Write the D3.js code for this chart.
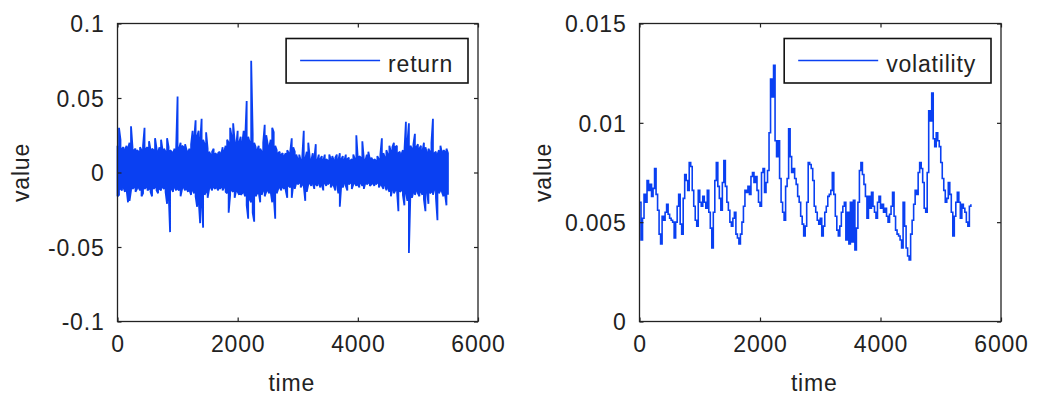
<!DOCTYPE html>
<html>
<head>
<meta charset="utf-8">
<script src="https://cdn.jsdelivr.net/npm/d3@7"></script>
<style>
  body { margin: 0; background: #fff; }
  text { font-family: Arial, "Liberation Sans", sans-serif; fill: #222; }
</style>
</head>
<body>
<div id="chart"></div>
<script>
// sample spacing (time units) of the series below
const sampleStep = 25;

// return: upper / lower envelope of each 25-step bin
const retHigh = [
  0.018,0.030,0.022,0.016,0.017,0.015,0.018,0.016,0.020,0.031,
  0.017,0.015,0.016,0.015,0.014,0.017,0.015,0.018,0.030,0.016,
  0.017,0.021,0.015,0.016,0.015,0.023,0.016,0.014,0.017,0.022,
  0.015,0.016,0.014,0.023,0.017,0.015,0.014,0.013,0.016,0.015,
  0.051,0.016,0.020,0.018,0.017,0.019,0.015,0.014,0.016,0.019,
  0.028,0.022,0.035,0.024,0.028,0.020,0.036,0.022,0.019,0.027,
  0.016,0.014,0.012,0.014,0.016,0.013,0.012,0.013,0.014,0.012,
  0.017,0.014,0.018,0.022,0.020,0.030,0.024,0.033,0.021,0.018,
  0.028,0.020,0.024,0.019,0.028,0.022,0.048,0.024,0.020,0.075,
  0.026,0.020,0.017,0.015,0.018,0.016,0.014,0.020,0.032,0.025,
  0.019,0.017,0.022,0.030,0.027,0.018,0.015,0.013,0.014,0.012,
  0.013,0.011,0.013,0.015,0.013,0.014,0.023,0.017,0.014,0.012,
  0.009,0.012,0.008,0.010,0.028,0.009,0.014,0.020,0.010,0.008,
  0.013,0.009,0.019,0.008,0.012,0.009,0.011,0.008,0.012,0.009,
  0.008,0.012,0.009,0.011,0.008,0.010,0.012,0.008,0.013,0.009,
  0.011,0.008,0.012,0.009,0.010,0.008,0.009,0.012,0.009,0.025,
  0.009,0.011,0.010,0.021,0.009,0.008,0.012,0.014,0.009,0.010,
  0.008,0.009,0.008,0.011,0.009,0.012,0.023,0.013,0.010,0.015,
  0.012,0.018,0.014,0.017,0.020,0.017,0.018,0.013,0.014,0.012,
  0.015,0.014,0.034,0.020,0.033,0.018,0.016,0.019,0.026,0.017,
  0.019,0.016,0.018,0.014,0.020,0.017,0.013,0.016,0.014,0.020,
  0.036,0.013,0.014,0.012,0.015,0.018,0.013,0.015,0.014,0.016,0.013
];
const retLow = [
  -0.016,-0.015,-0.011,-0.012,-0.010,-0.013,-0.011,-0.020,-0.019,-0.012,
  -0.011,-0.010,-0.013,-0.011,-0.010,-0.012,-0.016,-0.014,-0.011,-0.010,
  -0.012,-0.011,-0.013,-0.016,-0.011,-0.010,-0.012,-0.014,-0.011,-0.012,
  -0.010,-0.011,-0.013,-0.021,-0.012,-0.040,-0.011,-0.013,-0.010,-0.012,
  -0.011,-0.012,-0.016,-0.011,-0.010,-0.012,-0.011,-0.013,-0.012,-0.015,
  -0.012,-0.014,-0.016,-0.023,-0.018,-0.034,-0.020,-0.037,-0.015,-0.013,
  -0.017,-0.011,-0.010,-0.012,-0.010,-0.011,-0.010,-0.012,-0.011,-0.010,
  -0.012,-0.010,-0.013,-0.014,-0.027,-0.015,-0.012,-0.013,-0.017,-0.012,
  -0.013,-0.015,-0.015,-0.014,-0.013,-0.016,-0.022,-0.031,-0.018,-0.020,
  -0.027,-0.033,-0.016,-0.014,-0.013,-0.020,-0.015,-0.012,-0.016,-0.013,
  -0.012,-0.014,-0.013,-0.020,-0.016,-0.031,-0.014,-0.011,-0.010,-0.012,
  -0.010,-0.011,-0.012,-0.017,-0.009,-0.010,-0.017,-0.008,-0.011,-0.007,
  -0.008,-0.007,-0.010,-0.008,-0.009,-0.019,-0.013,-0.008,-0.007,-0.009,
  -0.007,-0.011,-0.008,-0.009,-0.007,-0.010,-0.008,-0.012,-0.007,-0.009,
  -0.008,-0.007,-0.010,-0.008,-0.009,-0.012,-0.007,-0.014,-0.023,-0.008,
  -0.010,-0.007,-0.009,-0.012,-0.008,-0.007,-0.011,-0.008,-0.007,-0.009,
  -0.008,-0.010,-0.007,-0.009,-0.011,-0.007,-0.008,-0.007,-0.009,-0.008,
  -0.007,-0.009,-0.008,-0.007,-0.010,-0.008,-0.009,-0.011,-0.008,-0.012,
  -0.010,-0.013,-0.016,-0.011,-0.014,-0.012,-0.011,-0.026,-0.013,-0.012,
  -0.015,-0.022,-0.013,-0.019,-0.054,-0.014,-0.017,-0.013,-0.015,-0.012,
  -0.014,-0.016,-0.013,-0.015,-0.018,-0.026,-0.012,-0.021,-0.014,-0.013,
  -0.015,-0.011,-0.017,-0.032,-0.014,-0.012,-0.013,-0.016,-0.014,-0.022,-0.015
];

// volatility, one value per 25 steps
const volatility = [
  0.0060,0.0041,0.0052,0.0064,0.0060,0.0071,0.0066,0.0069,0.0063,0.0067,
  0.0077,0.0064,0.0056,0.0044,0.0039,0.0053,0.0051,0.0055,0.0059,0.0054,
  0.0052,0.0051,0.0050,0.0042,0.0050,0.0058,0.0064,0.0049,0.0044,0.0062,
  0.0074,0.0071,0.0066,0.0080,0.0078,0.0066,0.0058,0.0051,0.0048,0.0066,
  0.0060,0.0058,0.0063,0.0060,0.0057,0.0066,0.0055,0.0047,0.0037,0.0055,
  0.0071,0.0080,0.0068,0.0062,0.0056,0.0070,0.0081,0.0068,0.0060,0.0056,
  0.0050,0.0048,0.0052,0.0055,0.0044,0.0042,0.0039,0.0044,0.0050,0.0058,
  0.0066,0.0065,0.0068,0.0064,0.0073,0.0075,0.0070,0.0073,0.0066,0.0060,
  0.0058,0.0075,0.0077,0.0065,0.0070,0.0076,0.0095,0.0122,0.0113,0.0129,
  0.0091,0.0083,0.0091,0.0072,0.0060,0.0055,0.0051,0.0068,0.0072,0.0097,
  0.0083,0.0075,0.0077,0.0072,0.0069,0.0063,0.0060,0.0053,0.0049,0.0043,
  0.0048,0.0060,0.0080,0.0079,0.0077,0.0071,0.0058,0.0055,0.0051,0.0049,
  0.0052,0.0043,0.0048,0.0055,0.0058,0.0063,0.0064,0.0066,0.0075,0.0064,
  0.0053,0.0046,0.0043,0.0048,0.0055,0.0058,0.0060,0.0041,0.0055,0.0039,
  0.0060,0.0040,0.0061,0.0036,0.0047,0.0060,0.0076,0.0080,0.0074,0.0069,
  0.0063,0.0052,0.0063,0.0057,0.0065,0.0058,0.0055,0.0052,0.0060,0.0063,
  0.0057,0.0059,0.0055,0.0057,0.0053,0.0050,0.0054,0.0058,0.0065,0.0053,
  0.0046,0.0044,0.0043,0.0041,0.0037,0.0060,0.0048,0.0037,0.0033,0.0031,
  0.0044,0.0051,0.0059,0.0066,0.0064,0.0075,0.0080,0.0077,0.0070,0.0057,
  0.0055,0.0075,0.0106,0.0101,0.0115,0.0092,0.0088,0.0095,0.0091,0.0088,
  0.0080,0.0072,0.0066,0.0060,0.0062,0.0070,0.0064,0.0055,0.0043,0.0053,
  0.0060,0.0065,0.0060,0.0052,0.0059,0.0057,0.0055,0.0050,0.0048,0.0058,0.0059
];

const timeTicks = [0, 2000, 4000, 6000];
const retTicks = [-0.1, -0.05, 0, 0.05, 0.1];
const volTicks = [0, 0.005, 0.01, 0.015];

const width = 1039, height = 399;
const plotTop = 23.5, plotBottom = 321.5;
const lineColor = "#0a40f2";

const svg = d3.select("#chart").append("svg")
  .attr("width", width)
  .attr("height", height);

// return series drawn as min/max zigzag per bin
let retPts = [];
retHigh.forEach((hi, i) => {
  const t = i * sampleStep, lo = retLow[i];
  if (i % 2 == 0) retPts.push([t, hi], [t, lo]);
  else retPts.push([t, lo], [t, hi]);
});
let volPts = volatility.map((v, i) => [i * sampleStep, v]);

const panels = [
  { left: 117.5, right: 478, yDomain: [-0.1, 0.1], yTicks: retTicks,
    pts: retPts, curve: d3.curveLinear, lw: 1.8, name: "return" },
  { left: 639.5, right: 1001, yDomain: [0, 0.015], yTicks: volTicks,
    pts: volPts, curve: d3.curveStepAfter, lw: 1.6, name: "volatility" }
];

panels.forEach(p => {
  const x = d3.scaleLinear().domain([0, 6000]).range([p.left, p.right]);
  const y = d3.scaleLinear().domain(p.yDomain).range([plotBottom, plotTop]);
  const g = svg.append("g");

  // data line
  g.append("path")
    .datum(p.pts)
    .attr("fill", "none")
    .attr("stroke", lineColor)
    .attr("stroke-width", p.lw)
    .attr("stroke-linejoin", "miter")
    .attr("stroke-miterlimit", 2)
    .attr("d", d3.line().x(d => x(d[0])).y(d => y(d[1])).curve(p.curve));

  // axes, ticks pointing inwards
  const fmt = d => String(d);
  g.append("g").attr("transform", "translate(0," + plotBottom + ")")
    .call(d3.axisBottom(x).tickValues(timeTicks).tickSizeInner(-4).tickSizeOuter(0).tickPadding(14).tickFormat(fmt));
  const ay = g.append("g").attr("transform", "translate(" + p.left + ",0)")
    .call(d3.axisLeft(y).tickValues(p.yTicks).tickSizeInner(-4).tickSizeOuter(0).tickPadding(13).tickFormat(fmt));
  g.append("g").attr("transform", "translate(0," + plotTop + ")")
    .call(d3.axisTop(x).tickValues(timeTicks).tickSizeInner(-4).tickSizeOuter(0).tickFormat(""));
  g.append("g").attr("transform", "translate(" + p.right + ",0)")
    .call(d3.axisRight(y).tickValues(p.yTicks).tickSizeInner(-4).tickSizeOuter(0).tickFormat(""));

  g.selectAll(".domain").remove();
  g.selectAll(".tick line").attr("stroke", "#222").attr("stroke-width", 1.2);
  g.selectAll(".tick text")
    .attr("fill", "#222")
    .style("font-size", "23px")
    .style("letter-spacing", "0.8px")
    .attr("font-family", null);
  ay.selectAll(".tick text").attr("dy", "0.36em");

  // box
  g.append("rect")
    .attr("x", p.left).attr("y", plotTop)
    .attr("width", p.right - p.left).attr("height", plotBottom - plotTop)
    .attr("fill", "none").attr("stroke", "#222").attr("stroke-width", 1.3);

  // axis titles
  g.append("text")
    .attr("x", (p.left + p.right) / 2 - 6).attr("y", 391)
    .attr("text-anchor", "middle")
    .style("font-size", "23px").style("letter-spacing", "0.8px")
    .text("time");
  const vx = p.left - 89;
  g.append("text")
    .attr("transform", "translate(" + vx + "," + (plotTop + plotBottom) / 2 + ") rotate(-90)")
    .attr("text-anchor", "middle")
    .style("font-size", "23px").style("letter-spacing", "0.8px")
    .text("value");

  // legend
  const leg = g.append("g");
  const lt = leg.append("text")
    .attr("y", 71.5)
    .style("font-size", "23px").style("letter-spacing", "0.8px")
    .text(p.name);
  const tw = lt.node().getComputedTextLength();
  const boxRight = p.right - 10;
  const textX = boxRight - 15 - tw;
  lt.attr("x", textX);
  const lineEnd = textX - 8, lineStart = lineEnd - 80;
  leg.append("line")
    .attr("x1", lineStart).attr("x2", lineEnd)
    .attr("y1", 60.5).attr("y2", 60.5)
    .attr("stroke", lineColor).attr("stroke-width", 1.4);
  leg.append("rect")
    .attr("x", lineStart - 14).attr("y", 38.5)
    .attr("width", boxRight - (lineStart - 14)).attr("height", 44.5)
    .attr("fill", "none").attr("stroke", "#111").attr("stroke-width", 1.6);
});
</script>
</body>
</html>
